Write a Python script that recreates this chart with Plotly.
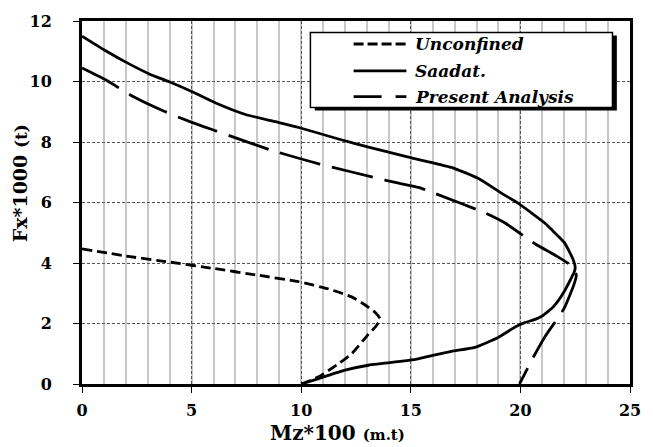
import plotly.graph_objects as go

# Fx*1000 (t) versus Mz*100 (m.t) interaction curves
unconfined_mz = [0, 2.0, 4.0, 6.0, 8.0, 9.89, 11.25, 12.3, 12.9, 13.4, 13.6, 13.4, 13.07,
                 12.3, 11.7, 10.8, 10.0]
unconfined_fx = [4.47, 4.23, 4.03, 3.82, 3.6, 3.38, 3.14, 2.88, 2.62, 2.35, 2.15, 1.9, 1.65,
                 1.0, 0.67, 0.24, 0.0]

saadat_mz = [0, 1.0, 2.0, 3.07, 3.98, 5.0, 6.1, 7.46, 8.83, 9.89, 11.7, 13.07, 14.89, 16.85,
             18.07, 19.13, 19.89, 21.1, 21.4, 22.0, 22.39, 22.5, 22.46, 22.0, 21.5, 21.0,
             20.6, 20.2, 19.8, 18.98, 17.92, 16.85, 15.95, 15.34, 14.89, 13.07, 12.0,
             10.8, 10.0]
saadat_fx = [11.5, 11.05, 10.64, 10.25, 9.99, 9.67, 9.29, 8.91, 8.67, 8.48, 8.1, 7.83, 7.5,
             7.16, 6.8, 6.31, 5.98, 5.33, 5.12, 4.68, 4.14, 3.85, 3.71, 3.06, 2.55, 2.25,
             2.12, 2.03, 1.9, 1.54, 1.21, 1.08, 0.94, 0.83, 0.78, 0.62, 0.46, 0.18, 0.0]

present_mz = [0, 1.1, 2.31, 3.67, 5.04, 6.1, 8.67, 10.8, 13.83, 15.34, 16.1, 18.37, 19.28,
              20.7, 21.6, 22.3, 22.55, 22.45, 22.0, 21.1, 20.6, 19.96]
present_fx = [10.45, 10.05, 9.51, 9.04, 8.64, 8.37, 7.72, 7.28, 6.74, 6.5, 6.3, 5.66, 5.33,
              4.62, 4.25, 3.92, 3.6, 3.3, 2.51, 1.54, 0.9, 0.0]

series_names = ["Unconfined", "Saadat.", "Present Analysis"]
x_ticks = [0, 5, 10, 15, 20, 25]
y_ticks = [0, 2, 4, 6, 8, 10, 12]

SERIF = "DejaVu Serif"
dash_styles = ["10px,5px", "solid", "42px,12px"]
legend_dashes = ["10px,4px", "solid", "28px,14px"]

fig = go.Figure()
for name, xs, ys, dash in zip(series_names,
                              [unconfined_mz, saadat_mz, present_mz],
                              [unconfined_fx, saadat_fx, present_fx],
                              dash_styles):
    fig.add_trace(go.Scatter(x=xs, y=ys, mode="lines", name=name,
                             line=dict(color="black", width=2.8, dash=dash,
                                       shape="spline", smoothing=0.5),
                             showlegend=False))

# Framed legend with a drop shadow, placed in the upper right of the plot
box = dict(x0=10.42, x1=24.2, y0=9.14, y1=11.62)
shapes = [
    dict(type="rect", xref="x", yref="y", x0=box["x0"] + 0.2, x1=box["x1"] + 0.2,
         y0=box["y0"] - 0.1, y1=box["y1"] - 0.1, fillcolor="black",
         line=dict(width=0), layer="above"),
    dict(type="rect", xref="x", yref="y", **box, fillcolor="white",
         line=dict(color="black", width=1.5), layer="above"),
]
annotations = []
row_y = [11.24, 10.35, 9.5]
for name, dash, yy in zip(series_names, legend_dashes, row_y):
    shapes.append(dict(type="line", xref="x", yref="y", x0=12.39, x1=14.8, y0=yy, y1=yy,
                       line=dict(color="black", width=2.8, dash=dash), layer="above"))
    annotations.append(dict(x=15.08, y=yy, xref="x", yref="y", text=name,
                            showarrow=False, xanchor="left", yanchor="middle",
                            font=dict(family=SERIF, size=17, color="black",
                                      weight="bold", style="italic")))

# Axis titles
annotations.append(dict(x=0.467, y=-0.1355, xref="paper", yref="paper",
                        text="Mz*100 <span style='font-size:15px'>(m.t)</span>",
                        showarrow=False, xanchor="center", yanchor="middle",
                        font=dict(family=SERIF, size=20, color="black", weight="bold")))
annotations.append(dict(x=-0.113, y=0.553, xref="paper", yref="paper",
                        text="Fx*1000 <span style='font-size:17px'>(t)</span>",
                        showarrow=False, textangle=-90, xanchor="center", yanchor="middle",
                        font=dict(family=SERIF, size=19, color="black", weight="bold")))

axis_common = dict(showline=True, mirror=True, linecolor="black", linewidth=3,
                   ticks="outside", ticklen=6, tickcolor="black", tickwidth=1,
                   showgrid=True, gridcolor="#555555", gridwidth=1, griddash="3px,2px",
                   zeroline=False,
                   tickfont=dict(family=SERIF, size=16, color="black", weight="bold"))

fig.update_layout(
    width=653, height=447,
    margin=dict(l=82, r=21, t=15, b=63),
    paper_bgcolor="white", plot_bgcolor="white",
    xaxis=dict(range=[0, 25], tickvals=x_ticks,
               minor=dict(dtick=1, showgrid=True, gridcolor="#c8c8c8", gridwidth=1.5,
                          griddash="solid", ticks=""),
               ticklabelstandoff=4, **axis_common),
    yaxis=dict(range=[0, 12], tickvals=y_ticks, ticklabelstandoff=18, **axis_common),
    shapes=shapes,
    annotations=annotations,
    showlegend=False,
)

fig.write_html("out.html")
